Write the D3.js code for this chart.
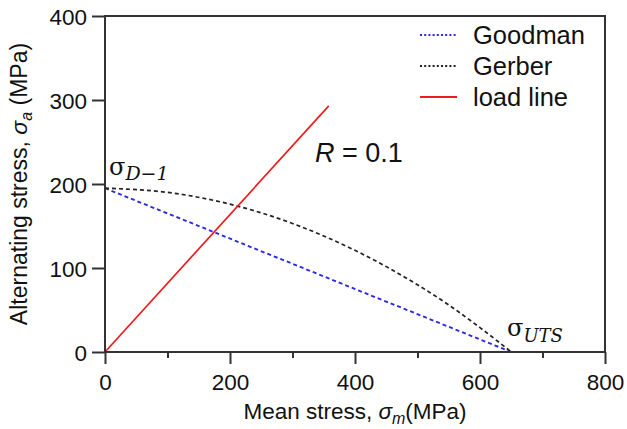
<!DOCTYPE html>
<html><head><meta charset="utf-8">
<script src="https://cdn.jsdelivr.net/npm/d3@7"></script>
<style>body{margin:0;background:#fff}text{font-family:"Liberation Sans",Arial,sans-serif;fill:#111}</style>
</head><body><svg id="c" width="627" height="429"></svg>
<script>
// data
const xTicks = [0, 200, 400, 600, 800];
const xMinor = [100, 300, 500, 700];
const yTicks = [0, 100, 200, 300, 400];
const goodmanM = [0, 650];
const goodmanA = [195, 0];
const gerberM = [0, 100, 200, 300, 400, 500, 550, 600, 650];
const gerberA = [195, 190, 176, 153, 121, 80, 56, 29, 0];
const loadM = [0, 358];
const loadA = [0, 293];
const legendLabels = ["Goodman", "Gerber", "load line"];
const colors = ["#2b2be6", "#222", "#ee1c1c"];

const svg = d3.select("#c");
const L = 105, R = 605, T = 16, B = 352;
const x = d3.scaleLinear().domain([0, 800]).range([L, R]);
const y = d3.scaleLinear().domain([0, 400]).range([B, T]);

const line = d3.line().x(d => x(d[0])).y(d => y(d[1]));
const zip = (a, b) => a.map((v, i) => [v, b[i]]);

// series
svg.append("path").attr("d", line(zip(goodmanM, goodmanA))).attr("fill", "none")
  .attr("stroke", colors[0]).attr("stroke-width", 1.9).attr("stroke-dasharray", "4,3");
svg.append("path").attr("d", line.curve(d3.curveMonotoneX)(zip(gerberM, gerberA))).attr("fill", "none")
  .attr("stroke", colors[1]).attr("stroke-width", 1.7).attr("stroke-dasharray", "4,3");
line.curve(d3.curveLinear);
svg.append("path").attr("d", line(zip(loadM, loadA))).attr("fill", "none")
  .attr("stroke", colors[2]).attr("stroke-width", 1.7);

// frame
svg.append("rect").attr("x", L).attr("y", T).attr("width", R - L).attr("height", B - T)
  .attr("fill", "none").attr("stroke", "#333").attr("stroke-width", 2);

// axes
const xa = svg.append("g").attr("transform", `translate(0,${B})`)
  .call(d3.axisBottom(x).tickValues(xTicks).tickSize(12).tickPadding(10).tickFormat(d3.format("d")));
const xm = svg.append("g").attr("transform", `translate(0,${B})`)
  .call(d3.axisBottom(x).tickValues(xMinor).tickSize(6).tickFormat(""));
const ya = svg.append("g").attr("transform", `translate(${L},0)`)
  .call(d3.axisLeft(y).tickValues(yTicks).tickSize(13).tickPadding(5).tickFormat(d3.format("d")));
[xa, xm, ya].forEach(g => {
  g.select(".domain").remove();
  g.selectAll("line").attr("stroke", "#333").attr("stroke-width", 2);
  g.selectAll("text").style("font-size", "22.5px").attr("fill", "#111");
});
xa.selectAll("text").attr("dy", "0.71em");
ya.selectAll("text").attr("dy", "0.36em");

// axis titles
const xt = svg.append("text").attr("x", (L + R) / 2).attr("y", 419).attr("text-anchor", "middle").style("font-size", "22.5px");
xt.append("tspan").text("Mean stress, ");
xt.append("tspan").text("σ").style("font-style", "italic");
xt.append("tspan").text("m").style("font-style", "italic").style("font-size", "16px").attr("dy", 5);
xt.append("tspan").text("(MPa)").attr("dy", -5);

const yt = svg.append("text").attr("transform", `translate(27,${(T + B) / 2}) rotate(-90)`)
  .attr("text-anchor", "middle").style("font-size", "23px");
yt.append("tspan").text("Alternating stress, ");
yt.append("tspan").text("σ").style("font-style", "italic");
yt.append("tspan").text("a").style("font-style", "italic").style("font-size", "16px").attr("dy", 5);
yt.append("tspan").text(" (MPa)").attr("dy", -5);

// legend
legendLabels.forEach((lab, i) => {
  const ly = 35 + i * 31;
  const ln = svg.append("line").attr("x1", 420).attr("x2", 457).attr("y1", ly).attr("y2", ly)
    .attr("stroke", colors[i]).attr("stroke-width", i === 2 ? 2 : 2.2);
  if (i < 2) ln.attr("stroke-dasharray", "2,2.2");
  svg.append("text").attr("x", 473).attr("y", ly + 9).text(lab).style("font-size", "25.5px");
});

// annotations
const rt = svg.append("text").attr("x", 315).attr("y", 162).style("font-size", "27px");
rt.append("tspan").text("R").style("font-style", "italic");
rt.append("tspan").text(" = 0.1");

const serif = '"DejaVu Serif","Liberation Serif",serif';
const s1 = svg.append("text").attr("x", 109).attr("y", 175).style("font-family", serif).style("font-size", "24px");
s1.append("tspan").text("σ");
s1.append("tspan").text("D−1").style("font-style", "italic").style("font-size", "19px").attr("dy", 5);

const s2 = svg.append("text").attr("x", 507).attr("y", 336).style("font-family", serif).style("font-size", "24px");
s2.append("tspan").text("σ");
s2.append("tspan").text("UTS").style("font-style", "italic").style("font-size", "18px").attr("dy", 6);
</script></body></html>
